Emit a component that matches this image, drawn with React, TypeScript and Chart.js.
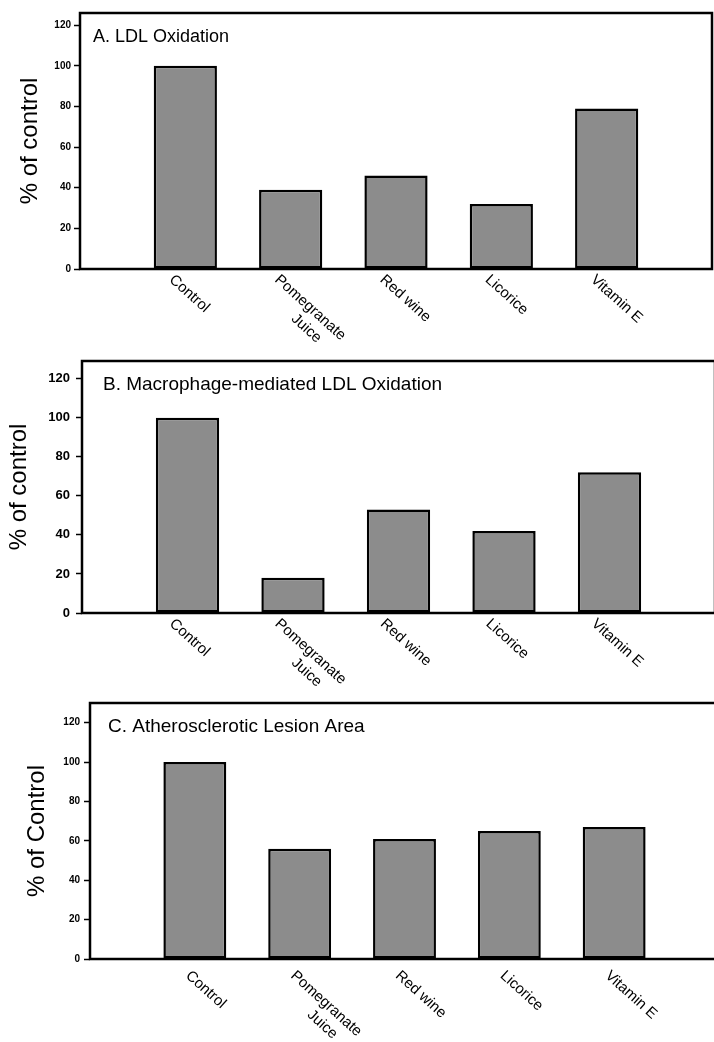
import React, { useEffect, useRef } from 'react';
import { Chart, registerables } from 'chart.js';

Chart.register(...registerables);

// ---------------- data ----------------
const categories = ['Control', 'Pomegranate\nJuice', 'Red wine', 'Licorice', 'Vitamin E'];
const ldlOxidation = [100, 39, 46, 32, 79];
const macrophageOxidation = [100, 18, 53, 42, 72];
const lesionArea = [100, 56, 61, 65, 67];
const yTickValues = [0, 20, 40, 60, 80, 100, 120];
const panelTitles = [
  'A. LDL Oxidation',
  'B. Macrophage-mediated LDL Oxidation',
  'C. Atherosclerotic Lesion Area',
];
const yAxisTitles = ['% of control', '% of control', '% of Control'];
const panelValues = [ldlOxidation, macrophageOxidation, lesionArea];
const yMaxes = [126, 129, 130];

// ---------------- layout / style ----------------
const FONT = '"Liberation Sans", Arial, Helvetica, sans-serif';
const CANVAS_W = 730;
const BAR_FILL = '#8c8c8c';

type Layout = {
  top: number; height: number;
  area: { top: number; bottom: number; left: number; right: number };
  tickFont: number; tickPad: number; tickLen: number;
  titleFont: number; titleDx: number; titleDy: number;
  yTitleFont: number; yTitlePad: number;
  labelDx: number; labelDy: number;
};

const layouts: Layout[] = [
  { top: 0, height: 370, area: { top: 13, bottom: 269, left: 80, right: 712 },
    tickFont: 10, tickPad: 3, tickLen: 6, titleFont: 18, titleDx: 13, titleDy: 29,
    yTitleFont: 24, yTitlePad: 16, labelDx: -9, labelDy: 3 },
  { top: 340, height: 360, area: { top: 21, bottom: 273, left: 82, right: 715 },
    tickFont: 13, tickPad: 6, tickLen: 6, titleFont: 19, titleDx: 21, titleDy: 29,
    yTitleFont: 24, yTitlePad: 5, labelDx: -11, labelDy: 3 },
  { top: 670, height: 372, area: { top: 33, bottom: 289, left: 90, right: 719 },
    tickFont: 10, tickPad: 4, tickLen: 6, titleFont: 19, titleDx: 18, titleDy: 29,
    yTitleFont: 24, yTitlePad: 23, labelDx: -2, labelDy: 9 },
];

const LABEL_FONT = 15;
const LABEL_ANGLE = 42;

function makeChart(canvas: HTMLCanvasElement, idx: number) {
  const L = layouts[idx];
  const labels = ['', ...categories, ''];
  const data = [null, ...panelValues[idx], null];

  const framePlugin = {
    id: 'frame' + idx,
    afterDatasetsDraw(chart: any) {
      const { ctx, chartArea: a } = chart;
      ctx.save();
      ctx.strokeStyle = '#000';
      ctx.lineWidth = 2.5;
      ctx.strokeRect(a.left, a.top, a.right - a.left, a.bottom - a.top);
      ctx.restore();
    },
    afterDraw(chart: any) {
      const { ctx, chartArea: a } = chart;
      const xs = chart.scales.x;
      ctx.save();
      // panel title inside plot area
      ctx.fillStyle = '#000';
      ctx.font = `${L.titleFont}px ${FONT}`;
      ctx.textAlign = 'left';
      ctx.textBaseline = 'alphabetic';
      ctx.fillText(panelTitles[idx], a.left + L.titleDx, a.top + L.titleDy);
      // rotated category labels
      ctx.font = `${LABEL_FONT}px ${FONT}`;
      ctx.textBaseline = 'top';
      categories.forEach((cat, i) => {
        const px = xs.getPixelForValue(i + 1);
        const lines = cat.split('\n');
        const w0 = ctx.measureText(lines[0]).width;
        ctx.save();
        ctx.translate(px + L.labelDx, a.bottom + L.labelDy);
        ctx.rotate((LABEL_ANGLE * Math.PI) / 180);
        lines.forEach((ln, j) => {
          const w = ctx.measureText(ln).width;
          const off = j === 0 ? 0 : (w0 - w) * 0.7;
          ctx.fillText(ln, off, j * 18);
        });
        ctx.restore();
      });
      ctx.restore();
    },
  };

  return new Chart(canvas, {
    type: 'bar',
    data: {
      labels,
      datasets: [
        {
          data,
          backgroundColor: BAR_FILL,
          borderColor: '#000',
          borderWidth: 2.5,
          borderSkipped: false,
          categoryPercentage: 1,
          barPercentage: 0.6,
        },
      ],
    },
    options: {
      responsive: false,
      animation: false,
      devicePixelRatio: 1,
      layout: {
        padding: {
          left: 0,
          top: L.area.top,
          right: CANVAS_W - L.area.right,
          bottom: L.height - L.area.bottom,
        },
      },
      plugins: {
        legend: { display: false },
        tooltip: { enabled: false },
        title: { display: false },
      },
      scales: {
        x: {
          type: 'category',
          offset: false,
          grid: { display: false, drawTicks: false },
          border: { display: false },
          ticks: { display: false },
          afterFit: (s: any) => { s.height = 0; },
        },
        y: {
          min: 0,
          max: yMaxes[idx],
          afterBuildTicks: (s: any) => { s.ticks = yTickValues.map((v) => ({ value: v })); },
          afterFit: (s: any) => { s.width = L.area.left; },
          border: { display: false },
          grid: {
            display: true,
            drawOnChartArea: false,
            drawTicks: true,
            tickLength: L.tickLen,
            tickColor: '#000',
            tickWidth: 1.5,
          },
          ticks: {
            color: '#000',
            padding: L.tickPad,
            font: { family: FONT, size: L.tickFont, weight: 'bold' },
          },
          title: {
            display: true,
            text: yAxisTitles[idx],
            color: '#000',
            font: { family: FONT, size: L.yTitleFont },
            padding: { top: L.yTitlePad, bottom: 0 },
          },
        },
      },
    } as any,
    plugins: [framePlugin],
  });
}

function Panel({ idx }: { idx: number }) {
  const ref = useRef<HTMLCanvasElement | null>(null);
  useEffect(() => {
    if (!ref.current) return;
    const c = makeChart(ref.current, idx);
    return () => c.destroy();
  }, [idx]);
  const L = layouts[idx];
  return (
    <div style={{ position: 'absolute', left: 0, top: L.top, width: CANVAS_W, height: L.height }}>
      <canvas ref={ref} width={CANVAS_W} height={L.height} style={{ width: CANVAS_W, height: L.height, display: 'block' }} />
    </div>
  );
}

export default function App() {
  return (
    <div
      style={{
        position: 'absolute',
        left: 0,
        top: 0,
        width: 714,
        height: 1042,
        overflow: 'hidden',
        background: '#fff',
      }}
    >
      {layouts.map((_, i) => (
        <Panel key={i} idx={i} />
      ))}
    </div>
  );
}
